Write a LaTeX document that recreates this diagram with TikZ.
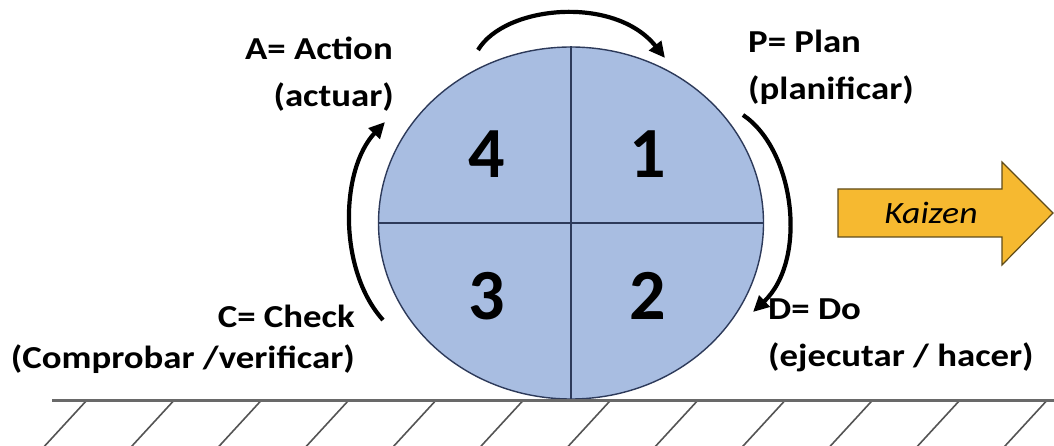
\documentclass[tikz,border=0pt]{standalone}
\usepackage{fontspec}
\setmainfont{Carlito}
\newfontfamily\lblfont[FakeStretch=1.15]{Carlito}
\usetikzlibrary{shapes.geometric,arrows.meta}
\definecolor{wheelfill}{RGB}{168,189,225}
\definecolor{wheelline}{RGB}{45,58,90}
\definecolor{kaizenfill}{RGB}{246,185,48}
\definecolor{kaizenline}{RGB}{95,75,25}
\definecolor{groundgray}{RGB}{105,105,105}
\tikzset{
  lbl/.style={font=\lblfont\bfseries\fontsize{32}{36}\selectfont, inner sep=0pt},
  num/.style={font=\bfseries\fontsize{72}{76}\selectfont, inner sep=0pt},
  cyc/.style={line width=4.2pt, -{Triangle[length=16pt,width=15pt]}},
  hatch/.style={line width=1.6pt, draw=groundgray!80!black},
}
\begin{document}
\begin{tikzpicture}[x=1pt,y=-1pt]
\useasboundingbox (0,0) rectangle (1054,446);
% ground
\coordinate (g1) at (52,400);
\coordinate (g2) at (1054,400);
\foreach \i in {0,...,11} {
  \draw[hatch] (87+87.3*\i,400) -- ++(-46,50);
}
% wheel
\node[ellipse, draw=wheelline, line width=1.4pt, fill=wheelfill,
      minimum width=385pt, minimum height=352pt, inner sep=0pt] (wheel) at (571,223) {};
\draw[wheelline, line width=1.8pt] (wheel.north) -- (wheel.south);
\draw[wheelline, line width=1.8pt] (wheel.west) -- (wheel.east);
\draw[groundgray, line width=3pt] (g1) -- (g2);
% numbers
\node[num, anchor=base] (n4) at (487,178) {4};
\node[num, anchor=base] (n1) at (648,178) {1};
\node[num, anchor=base] (n3) at (487,319) {3};
\node[num, anchor=base] (n2) at (648,319) {2};
% cycle arrows
\coordinate (ts) at (478,50);
\coordinate (te) at (665,58);
\coordinate (rs) at (743,115);
\coordinate (re) at (753,312);
\coordinate (ls) at (383,320);
\coordinate (le) at (385,122);
\draw[cyc] (ts) .. controls (505,5) and (615,-5) .. (te);
\draw[cyc] (rs) .. controls (795,150) and (808,260) .. (re);
\draw[cyc] (ls) .. controls (338,270) and (340,170) .. (le);
% labels
\node[lbl, anchor=base east] (a1) at (393,60) {A= Action};
\node[lbl, anchor=base east] (a2) at (394,107) {(actuar)};
\node[lbl, anchor=base west] (p1) at (748,53) {P= Plan};
\node[lbl, anchor=base west] (p2) at (748,100) {(planificar)};
\node[lbl, anchor=base east] (c1) at (355,327) {C= Check};
\node[lbl, anchor=base east] (c2) at (355,368) {(Comprobar /verificar)};
\node[lbl, anchor=base west] (d1) at (768,319) {D= Do};
\node[lbl, anchor=base west] (d2) at (768,366) {(ejecutar / hacer)};
% kaizen arrow
\draw[kaizenline, fill=kaizenfill, line width=1.2pt, line join=miter]
  (838,189) -- (1002,189) -- (1002,162) -- (1053,213) -- (1002,265) -- (1002,237) -- (838,237) -- cycle;
\node[font=\lblfont\itshape\fontsize{31}{36}\selectfont, inner sep=0pt] (kz) at (931,213) {Kaizen};
\end{tikzpicture}
\end{document}
